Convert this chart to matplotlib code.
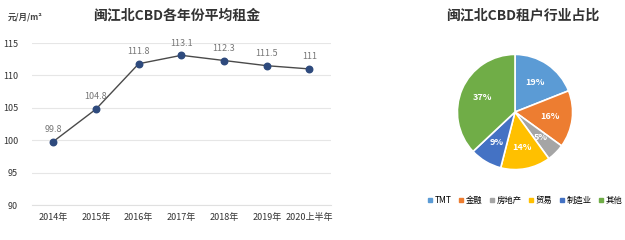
import matplotlib.pyplot as plt
from matplotlib.lines import Line2D

plt.rcParams['font.family'] = ['Noto Sans CJK SC', 'DejaVu Sans']

# rent data
years = ['2014年', '2015年', '2016年', '2017年', '2018年', '2019年', '2020上半年']
rent = [99.8, 104.8, 111.8, 113.1, 112.3, 111.5, 111]
yticks = [90, 95, 100, 105, 110, 115]

# tenant industry share
industries = ['TMT', '金融', '房地产', '贸易', '制造业', '其他']
shares = [19, 16, 5, 14, 9, 37]
pie_colors = ['#5B9BD5', '#ED7D31', '#A5A5A5', '#FFC000', '#4472C4', '#70AD47']

fig = plt.figure(figsize=(6.25, 2.4), dpi=100)
fig.patch.set_facecolor('white')

# left: line chart
ax = fig.add_axes([0.0512, 0.1458, 0.478, 0.675])
x = range(len(years))
ax.plot(x, rent, color='#4A4A4A', linewidth=1, zorder=2)
ax.scatter(x, rent, s=22, color='#2E4A7D', zorder=3, clip_on=False)
for i, v in zip(x, rent):
    ax.text(i, v + 1.2, f'{v:g}', ha='center', va='bottom', fontsize=6.5, color='#777777')
ax.set_xlim(-0.5, len(years) - 0.5)
ax.set_ylim(90, 115)
ax.set_yticks(yticks)
ax.set_xticks(list(x))
ax.set_xticklabels(years)
ax.tick_params(axis='both', length=0, labelsize=6.5, colors='#333333')
ax.tick_params(axis='x', pad=6)
ax.tick_params(axis='y', pad=10)
ax.grid(axis='y', color='#E6E6E6', linewidth=0.8)
ax.set_axisbelow(True)
for s in ['top', 'right', 'left']:
    ax.spines[s].set_visible(False)
ax.spines['bottom'].set_color('#E0E0E0')
fig.text(0.283, 0.935, '闽江北CBD各年份平均租金', ha='center', va='center',
         fontsize=10, fontweight='bold', color='#333333')
fig.text(0.012, 0.93, '元/月/m²', ha='left', va='center', fontsize=6,
         fontweight='bold', color='#444444')

# right: pie chart
pax = fig.add_axes([0.7088, 0.2333, 0.2304, 0.6])
wedges, texts, autotexts = pax.pie(
    shares, colors=pie_colors, startangle=90, counterclock=False,
    autopct='%d%%', pctdistance=0.62,
    wedgeprops=dict(edgecolor='white', linewidth=1.2))
for t in autotexts:
    t.set_color('white')
    t.set_fontsize(6.5)
    t.set_fontweight('bold')
pax.set_aspect('equal')
fig.text(0.836, 0.935, '闽江北CBD租户行业占比', ha='center', va='center',
         fontsize=10, fontweight='bold', color='#333333')

handles = [Line2D([0], [0], marker='s', linestyle='', markersize=3,
                  markerfacecolor=c, markeredgecolor=c) for c in pie_colors]
fig.legend(handles, industries, loc='center', bbox_to_anchor=(0.84, 0.165),
           ncol=6, fontsize=6, frameon=False, handlelength=0.6,
           handletextpad=0.3, columnspacing=0.8)

fig.savefig('out.png', dpi=100, facecolor='white')
